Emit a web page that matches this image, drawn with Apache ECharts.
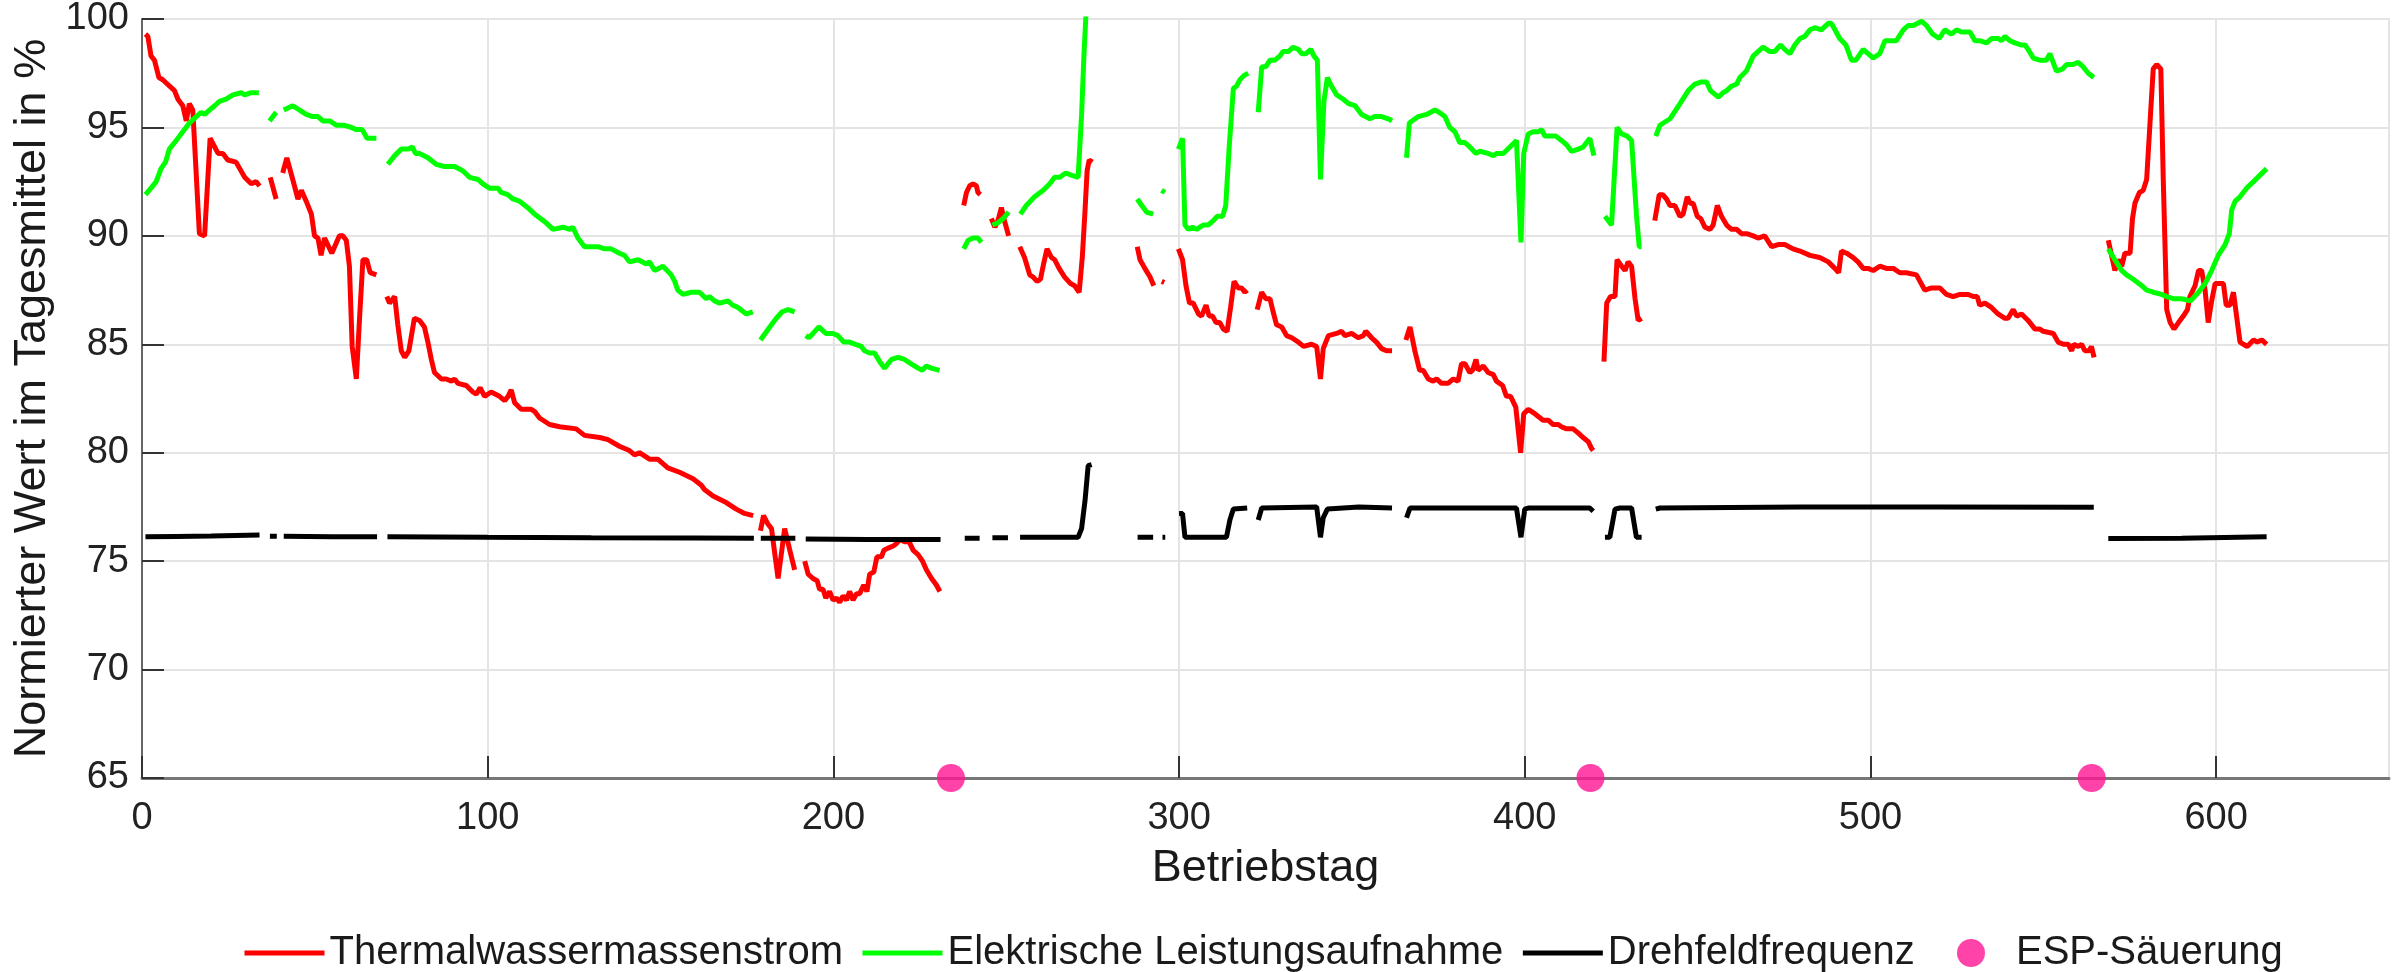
<!DOCTYPE html>
<html>
<head>
<meta charset="utf-8">
<title>Betriebstag</title>
<script src="https://cdn.jsdelivr.net/npm/echarts@6.0.0/dist/echarts.min.js"></script>
<style>
  html, body { margin: 0; padding: 0; background: #fff; }
  #chart { width: 2403px; height: 972px; }
</style>
</head>
<body>
<div id="chart"></div>
<script>
// [Betriebstag, Wert in %], null = Lücke in der Messreihe
const thermal = [
  [1,99.3],[1.7,99.2],[2.6,98.3],[3.6,98.1],[4.9,97.3],[6,97.2],[8,96.9],[9.4,96.7],[10.4,96.3],[11.8,96.0],[12.8,95.3],[13.7,96.1],[14.7,95.8],[16.6,90.1],[18.1,90.0],[19.7,94.5],[22,93.8],[23.4,93.8],[24.8,93.5],[27.2,93.4],[29.7,92.7],[31.6,92.4],[33,92.5],[34,92.3],
  [35.5,null],
  [37.1,92.7],[38.8,91.7],
  [39.8,null],
  [40.7,92.9],[41.9,93.6],[43.6,92.6],[45.1,91.7],[46.1,92.1],[47.5,91.6],[49,91.0],[49.9,90.0],[50.9,89.9],[51.8,89.1],[52.8,89.9],[54.9,89.2],[57.1,90.0],[58.1,90.0],[59.1,89.8],[60,88.6],[60.8,84.9],[62,83.4],[62.9,86.1],[63.9,88.9],[65,88.9],[66,88.3],[67.8,88.2],
  [69,null],
  [70.8,87.2],[71.6,86.9],[73.1,87.2],[74,85.9],[75,84.7],[76,84.4],[77.2,84.7],[78.8,86.2],[80.3,86.1],[81.7,85.8],[82.7,85.1],[83.7,84.3],[84.6,83.7],[86.6,83.4],[88,83.4],[89.5,83.3],[90.4,83.4],[91.4,83.2],[93.8,83.1],[95.7,82.8],[96.7,82.7],[97.8,83.0],[99.1,82.6],[101,82.8],[103.4,82.6],[104.9,82.4],[105.9,82.6],[106.8,82.9],[107.8,82.3],[109.7,82.0],[111.6,82.0],[112.6,82.0],[113.6,81.9],[115,81.6],[117.9,81.3],[120.8,81.2],[125.6,81.1],[128,80.8],[132.4,80.7],[134.8,80.6],[138.1,80.3],[141,80.1],[142.5,79.9],[143.9,80.0],[146.8,79.7],[149.2,79.7],[152.1,79.3],[155.5,79.1],[159.4,78.8],[161.8,78.5],[162.7,78.3],[165.2,78.0],[169,77.7],[171.9,77.4],[174.3,77.2],[176.8,77.1],
  [177.8,null],
  [178.9,76.4],[179.8,77.1],[181.1,76.7],[182.1,76.5],[183,75.4],[184,74.2],[185,75.4],[185.9,76.5],[187.4,75.5],[188.8,74.6],
  [190,null],
  [191.7,75.0],[192.7,74.4],[194.1,74.2],[195.3,74.1],[196,73.7],[197,73.7],[197.8,73.3],[198.9,73.6],[199.9,73.2],[200.9,73.3],[201.8,73.1],[202.8,73.4],[203.8,73.2],[204.7,73.6],[205.7,73.2],[206.7,73.5],[207.6,73.5],[208.8,73.9],[209.7,73.6],[210.5,74.4],[211.7,74.5],[212.6,75.2],[213.9,75.2],[214.6,75.5],[215.8,75.6],[217.3,75.7],[218.2,75.8],[219.2,76.0],[220.6,75.9],[221.9,75.9],[223.1,75.5],[224.5,75.3],[225.8,75.0],[226.9,74.6],[228.4,74.2],[229.8,73.9],[230.8,73.6],
  [234,null],
  [237.7,91.4],[238.5,92.0],[239.4,92.3],[240.4,92.4],[241.4,92.3],[241.8,92.0],[242.5,91.9],
  [244,null],
  [245.7,90.8],[246.7,90.4],[247.6,90.7],[248.6,91.3],[249.3,90.8],[250,90.4],[250.7,90.0],
  [252,null],
  [253.9,89.5],[255.3,89.0],[256.8,88.2],[257.8,88.1],[258.9,87.9],[259.9,88.0],[260.8,88.7],[261.8,89.4],[263.1,89.0],[264,88.9],[265.3,88.5],[266.9,88.1],[268.6,87.8],[269.8,87.7],[271.1,87.4],[272,89.0],[272.7,90.9],[273.4,93.0],[274,93.5],[274.9,93.4],
  [280,null],
  [287.9,89.5],[288.7,88.9],[290.1,88.5],[291.6,88.1],[292.7,87.7],
  [294,null],
  [295,87.9],[295.7,87.85],
  [297,null],
  [299.8,89.4],[301,88.9],[302,87.7],[303,86.9],[304.1,86.9],[305.6,86.4],[306.5,86.3],[307.8,86.8],[308.7,86.3],[309.7,86.3],[310.7,86.0],[311.8,86.0],[312.8,85.7],[313.9,85.6],[314.9,86.7],[315.9,87.9],[317.1,87.6],[318.1,87.6],[319,87.4],[319.7,87.5],
  [321,null],
  [322.6,86.6],[323.9,87.4],[325.1,87.1],[326.3,87.1],[327.2,86.5],[328.2,85.9],[329.7,85.8],[331.1,85.4],[332.6,85.3],[334.5,85.1],[336,84.9],[338.3,85.0],[339.8,84.9],[340.9,83.4],[341.7,84.8],[343.2,85.4],[345.6,85.5],[347,85.6],[348,85.4],[349.9,85.5],[351.8,85.3],[353.3,85.4],[354,85.6],[355.7,85.3],[357.1,85.1],[358.6,84.8],[360,84.7],[361.6,84.7],
  [363,null],
  [365.6,85.2],[366.8,85.8],[368.2,84.7],[369.6,83.8],[370.6,83.8],[372.1,83.4],[373.5,83.3],[374.5,83.4],[375.9,83.2],[377.8,83.2],[379.3,83.4],[380.7,83.3],[381.7,84.1],[382.7,84.1],[384.1,83.7],[384.9,83.8],[385.9,84.3],[386.5,83.8],[388,84.0],[389.4,83.7],[390.9,83.6],[391.8,83.3],[393.6,83.1],[394.7,82.6],[395.9,82.6],[397.4,82.1],[398.8,80.0],[399.7,81.8],[401,82.0],[402.9,81.8],[405.3,81.5],[406.8,81.5],[408.2,81.3],[409.7,81.3],[410.6,81.2],[412.1,81.1],[414,81.1],[415.5,80.9],[416.9,80.7],[418.4,80.5],[419.3,80.2],[419.8,80.1],
  [421,null],
  [422.9,84.2],[423.7,86.9],[424.8,87.2],[426.1,87.2],[426.7,88.9],[428,88.6],[429,88.4],[429.9,88.8],[430.9,88.6],[431.9,87.1],[432.8,86.1],[433.8,86.2],
  [435.5,null],
  [437.6,90.7],[438.9,91.9],[439.9,91.9],[441,91.7],[442,91.4],[443.4,91.4],[444.9,90.9],[445.8,91.0],[447,91.8],[447.8,91.5],[448.7,91.5],[449.9,90.9],[450.9,90.8],[452.1,90.4],[453.6,90.3],[454.5,90.5],[455.7,91.4],[456.9,90.9],[458.4,90.5],[459.8,90.3],[461.3,90.3],[462.7,90.1],[464.2,90.1],[466.1,90.0],[467.5,89.9],[469.4,90.0],[471.4,89.5],[473.3,89.6],[475.2,89.6],[477.6,89.4],[479.6,89.3],[482.5,89.1],[485.3,89.0],[487.8,88.8],[489.7,88.5],[490.8,88.3],[491.6,89.3],[493.1,89.2],[495,89.0],[496.4,88.8],[497.9,88.5],[499.3,88.5],[500.8,88.4],[502.7,88.6],[504.6,88.5],[506.6,88.5],[508.5,88.3],[510.4,88.3],[513.3,88.2],[515.7,87.5],[517.7,87.6],[520.1,87.6],[522,87.3],[523.9,87.2],[525.9,87.3],[528.3,87.3],[529.7,87.2],[530.9,87.2],[531.6,86.8],[533.1,86.9],[535,86.7],[536.9,86.4],[538.9,86.2],[539.8,86.2],[541.3,86.6],[542.3,86.3],[543.7,86.4],[545.6,86.1],[547.6,85.7],[549,85.7],[550,85.6],[552.9,85.5],[554.3,85.1],[555.8,85.0],[557.2,85.0],[558.2,84.7],[558.8,85.0],[560.1,84.9],[561.1,85.0],[562,84.7],[563.3,84.7],[563.9,84.9],[564.7,84.4],
  [566.5,null],
  [568.8,89.8],[570.7,88.4],[571.7,88.9],[572.7,88.6],[573.6,89.2],[575.1,89.2],[575.8,90.8],[576.5,91.5],[577.8,92.0],[578.9,92.1],[579.9,92.6],[580.9,95.3],[581.8,97.7],[582.8,97.9],[584,97.7],[584.7,92.6],[585.7,86.6],[586.7,86.0],[587.8,85.7],[589.1,86.0],[590.5,86.3],[591.7,86.6],[592.4,87.2],[593.9,87.7],[594.9,88.4],[595.8,88.4],[596.8,87.5],[597.7,86.0],[598.7,87.0],[599.7,87.8],[602.1,87.8],[602.9,86.8],[604,86.8],[605,87.4],[606.9,85.1],[607.9,85.0],[609,84.9],[610.8,85.2],[611.9,85.1],[613.2,85.2],[614.6,85.0]
]

const leistung = [
  [1,91.9],[2.6,92.2],[4.1,92.5],[5.5,93.1],[6.8,93.4],[7.9,94.0],[9.9,94.4],[11.8,94.8],[13.7,95.2],[15.7,95.5],[17.1,95.7],[18.1,95.6],[19.5,95.8],[21,96.0],[22.4,96.2],[24.3,96.3],[26.3,96.5],[28.7,96.6],[29.7,96.5],[31.6,96.6],[33.8,96.6],
  [35.5,null],
  [36.9,95.3],[38.8,95.7],
  [39.8,null],
  [41,95.8],[43.6,96.0],[45.6,95.8],[47.5,95.6],[49.4,95.5],[50.9,95.5],[52.3,95.3],[54.3,95.3],[56.2,95.1],[58.6,95.1],[60.5,95.0],[62,94.9],[63.7,94.9],[65.1,94.5],[67.8,94.5],
  [69,null],
  [71.1,93.3],[73.1,93.7],[75,94.0],[77,94.0],[78.2,94.1],[79.1,93.8],[80.3,93.8],[82.7,93.6],[85.1,93.3],[87.5,93.2],[90.4,93.2],[92.8,93.0],[94.8,92.7],[97.2,92.6],[98.6,92.4],[100.5,92.2],[103,92.2],[103.9,92.0],[105.8,91.9],[107.3,91.7],[109.2,91.6],[111.6,91.3],[113.6,91.0],[116.9,90.6],[118.9,90.3],[121.8,90.4],[123.7,90.3],[124.6,90.4],[126.1,89.9],[128,89.5],[130.4,89.5],[131.9,89.5],[133.8,89.4],[135.7,89.4],[138.1,89.2],[139.6,89.1],[141,88.8],[143.5,88.9],[145.9,88.7],[146.8,88.8],[148.3,88.4],[150.7,88.6],[153.1,88.2],[154.1,87.9],[155,87.5],[156.5,87.3],[158.9,87.4],[161.3,87.4],[163.2,87.1],[164.2,87.2],[165.6,87.0],[167.1,86.9],[169.5,87.0],[170.9,86.8],[172.4,86.7],[174.8,86.4],[176.7,86.5],
  [177.8,null],
  [178.9,85.2],[181.6,85.8],[183.5,86.2],[185.2,86.5],[186.9,86.6],[188.8,86.5],
  [190,null],
  [192,85.4],[192.9,85.3],[194.1,85.5],[195.8,85.8],[197.8,85.5],[199.9,85.5],[201.3,85.4],[203,85.1],[204.7,85.1],[206.4,85.0],[208.1,84.9],[209,84.7],[210.5,84.6],[211.9,84.6],[213.4,84.2],[214.8,83.9],[216.8,84.3],[218.7,84.4],[220.6,84.3],[222.5,84.1],[224.5,83.9],[225.7,83.8],[226.9,84.0],[228.3,83.9],[230.7,83.8],
  [234,null],
  [237.7,89.4],[239,89.8],[240.4,89.9],[241.8,89.9],[242.8,89.7],
  [244,null],
  [246,90.5],[247.6,90.6],[249.1,90.8],[250.7,91.1],
  [252,null],
  [254.1,91.0],[255.8,91.4],[258.2,91.8],[260.7,92.1],[262.6,92.4],[264,92.7],[265.5,92.7],[267.2,92.9],[268.8,92.8],[270.8,92.7],[271.8,95.6],[272.5,98.4],[273,100],[273.3,101],
  [280,null],
  [287.9,91.7],[289.2,91.4],[290.6,91.1],[292.5,91.0],
  [294,null],
  [294.9,92.1],[295.9,92.0],
  [297,null],
  [299.8,94.0],[301,94.5],[301.7,90.5],[302.7,90.3],[303.9,90.4],[305.1,90.3],[306,90.4],[307,90.5],[308.4,90.5],[309.9,90.7],[311,90.9],[312.6,90.9],[313.5,91.4],[314.5,94.1],[315.7,96.8],[316.6,96.9],[317.6,97.2],[318.8,97.4],[320,97.5],
  [321,null],
  [322.9,95.7],[323.9,97.8],[325.1,97.8],[326.3,98.1],[327.7,98.1],[329.2,98.3],[330.1,98.5],[331.6,98.5],[333,98.7],[334.5,98.6],[335.5,98.4],[336.7,98.4],[338.1,98.6],[339,98.3],[340,98.1],[340.9,92.6],[341.9,96.2],[342.9,97.3],[344.1,96.9],[345.6,96.5],[347.5,96.3],[349,96.1],[350.9,96.0],[352.8,95.6],[355.2,95.4],[356.6,95.5],[358.6,95.5],[360.5,95.4],[361.6,95.3],
  [363,null],
  [365.8,93.6],[366.6,95.2],[369.2,95.5],[371.6,95.6],[374,95.8],[375.2,95.7],[376.9,95.5],[378.3,95.0],[379.8,94.8],[381.2,94.3],[382.7,94.3],[384.1,94.1],[385.9,93.8],[387,93.9],[389.4,93.8],[390.9,93.7],[391.8,93.8],[393.8,93.8],[395.7,94.1],[397.6,94.4],[398.9,89.7],[399.7,93.8],[401,94.7],[402.4,94.8],[403.9,94.8],[404.9,94.9],[405.8,94.6],[407.3,94.6],[409,94.6],[410.6,94.4],[412.1,94.2],[413.5,93.9],[415.5,94.0],[416.9,94.1],[418.8,94.5],[420,93.7],
  [421,null],
  [423.2,90.9],[425.1,90.5],[426.7,95.0],[428,94.7],[429.6,94.6],[430.9,94.4],[432.3,91.0],[433.1,89.5],[433.8,89.5],
  [435.5,null],
  [437.9,94.6],[439.1,95.1],[442,95.4],[444.9,96.1],[447.3,96.7],[449.2,97.0],[451.1,97.1],[452.6,97.1],[453.7,96.7],[456,96.4],[457.4,96.6],[458.4,96.7],[459.8,96.9],[461.3,97.0],[462.2,97.3],[464.1,97.6],[466.1,98.3],[467.5,98.5],[468.9,98.7],[470.9,98.5],[472.3,98.5],[474,98.8],[475.2,98.6],[476.7,98.4],[478.1,98.8],[479.6,99.1],[481,99.2],[482.5,99.5],[483.9,99.6],[485.8,99.5],[487.8,99.8],[488.7,99.8],[491.1,99.1],[492.9,98.8],[494.5,98.1],[495.8,98.1],[497.9,98.6],[499.3,98.4],[500.8,98.2],[502.7,98.4],[504.2,99.0],[505.6,99.0],[507.5,99.0],[509.5,99.5],[510.9,99.7],[512.4,99.7],[514.8,99.9],[516.2,99.7],[518,99.3],[519.9,99.1],[521.5,99.5],[523.4,99.3],[524.9,99.5],[526.3,99.4],[528.8,99.4],[530.2,99.0],[531.6,99.0],[533.6,98.9],[535,99.1],[537,99.1],[537.9,99.0],[538.9,99.2],[540.3,99.0],[541.8,98.9],[543.7,98.8],[544.7,98.8],[545.6,98.6],[547.1,98.2],[549,98.1],[550,98.1],[550.9,98.1],[551.9,98.4],[553.8,97.6],[555.6,97.7],[556.7,97.9],[558.5,97.9],[560.1,98.0],[561.5,97.8],[563,97.5],[564.6,97.3],
  [566.5,null],
  [568.8,89.4],[570.7,88.9],[572.7,88.4],[574.1,88.2],[576,88.0],[578.5,87.7],[579.9,87.5],[581.8,87.4],[584.2,87.3],[585.7,87.2],[587.6,87.1],[590,87.1],[592.6,87.0],[594.9,87.4],[596.8,87.8],[598.7,88.4],[600.6,89.1],[602.6,89.6],[603.8,90.1],[604.5,91.2],[605.5,91.6],[606.9,91.8],[608.8,92.2],[610.8,92.5],[612.7,92.8],[614.6,93.1]
]

const frequenz = [
  [1,76.12],[10,76.14],[20,76.16],[34,76.2],
  [35.5,null],
  [37,76.15],[39,76.15],
  [39.8,null],
  [41,76.15],[55,76.13],[68,76.12],
  [69,null],
  [71,76.12],[100,76.1],[130,76.08],[160,76.07],[177,76.05],
  [177.8,null],
  [179,76.05],[189,76.05],
  [190,null],
  [192,76.02],[210,76.0],[231,76.0],
  [234,null],
  [238,76.05],[242.3,76.05],
  [244,null],
  [246,76.08],[250.5,76.08],
  [252,null],
  [254,76.1],[270.8,76.1],[271.8,76.5],[272.8,77.8],[273.7,79.4],[274.7,79.45],
  [280,null],
  [288,76.1],[292.5,76.1],
  [294,null],
  [295.2,76.1],[296,76.1],
  [297,null],
  [300,77.2],[301,77.2],[301.7,76.1],[313.7,76.1],[314.7,76.9],[315.7,77.4],[319.7,77.45],
  [321,null],
  [322.9,76.9],[323.9,77.45],[339.8,77.5],[340.9,76.1],[341.7,77.0],[342.9,77.4],[352,77.5],[361.6,77.45],
  [363,null],
  [365.8,77.0],[366.8,77.45],[397.6,77.45],[398.9,76.1],[400,77.4],[401,77.45],[418.8,77.45],[419.8,77.3],
  [421,null],
  [423.2,76.1],[424.6,76.1],[426.1,77.4],[427.5,77.45],[430.9,77.45],[432.3,76.1],[433.8,76.1],
  [435.5,null],
  [437.9,77.4],[439.1,77.45],[480,77.5],[520,77.5],[564.6,77.48],
  [566.5,null],
  [568.8,76.04],[590,76.05],[614.6,76.12]
]

const saeuerung = [234, 419, 564]

const xTicks = { min: 0, max: 650, interval: 100 }
const yTicks = { min: 65, max: 100, interval: 5 }

// null -> '-' damit ECharts die Linie unterbricht
function toSeries(arr) {
  return arr.map(p => [p[0], p[1] === null ? '-' : p[1]])
}

const font = 'Liberation Sans, Arial, Helvetica, sans-serif'
const chart = echarts.init(document.getElementById('chart'))

function lineSeries(name, color, data) {
  return {
    name: name,
    type: 'line',
    data: toSeries(data),
    symbol: 'none',
    connectNulls: false,
    lineStyle: { color: color, width: 5 },
    itemStyle: { color: color }
  }
}

// Linien-Legende ohne Punkt im Symbol
function lineItem(name) {
  return { name: name, itemStyle: { opacity: 0 }, lineStyle: { width: 5 } }
}

const legendText = { fontSize: 40, color: '#1a1a1a', fontFamily: font }

chart.setOption({
  animation: false,
  backgroundColor: '#ffffff',
  textStyle: { fontFamily: font },
  grid: {
    left: 142,
    right: 14,
    top: 19,
    bottom: 194,
    show: true,
    borderColor: '#e4e4e4',
    borderWidth: 2
  },
  legend: [
    {
      left: 237,
      top: 928,
      itemWidth: 80,
      itemHeight: 28,
      itemGap: 17,
      lineStyle: { width: 5 },
      textStyle: legendText,
      data: [lineItem('Thermalwassermassenstrom'), lineItem('Elektrische Leistungsaufnahme'), lineItem('Drehfeldfrequenz')]
    },
    {
      left: 1952,
      top: 928,
      itemWidth: 80,
      itemHeight: 28,
      textStyle: legendText,
      data: ['ESP-Säuerung']
    }
  ],
  xAxis: {
    type: 'value',
    min: xTicks.min,
    max: xTicks.max,
    interval: xTicks.interval,
    name: 'Betriebstag',
    nameLocation: 'middle',
    nameGap: 68,
    nameTextStyle: { fontSize: 45, color: '#1a1a1a' },
    axisLine: { show: true, onZero: false, lineStyle: { color: '#777', width: 3 } },
    axisTick: { show: true, inside: true, length: 22, lineStyle: { color: '#333', width: 2 } },
    axisLabel: { fontSize: 38, color: '#222', margin: 22, showMaxLabel: false },
    splitLine: { show: true, lineStyle: { color: '#e4e4e4', width: 2 } }
  },
  yAxis: {
    type: 'value',
    min: yTicks.min,
    max: yTicks.max,
    interval: yTicks.interval,
    name: 'Normierter Wert im Tagesmittel in %',
    nameLocation: 'middle',
    nameGap: 66,
    nameTextStyle: { fontSize: 45, color: '#1a1a1a' },
    axisLine: { show: true, lineStyle: { color: '#666', width: 2 } },
    axisTick: { show: true, inside: true, length: 22, lineStyle: { color: '#333', width: 2 } },
    axisLabel: { fontSize: 38, color: '#222', margin: 13 },
    splitLine: { show: true, lineStyle: { color: '#e4e4e4', width: 2 } }
  },
  series: [
    lineSeries('Thermalwassermassenstrom', '#ff0000', thermal),
    lineSeries('Elektrische Leistungsaufnahme', '#00ff00', leistung),
    lineSeries('Drehfeldfrequenz', '#000000', frequenz),
    {
      name: 'ESP-Säuerung',
      type: 'scatter',
      data: saeuerung.map(d => [d, yTicks.min]),
      symbol: 'circle',
      symbolSize: 28,
      clip: false,
      z: 5,
      itemStyle: { color: '#ff1493' }
    }
  ]
})
</script>
</body>
</html>
